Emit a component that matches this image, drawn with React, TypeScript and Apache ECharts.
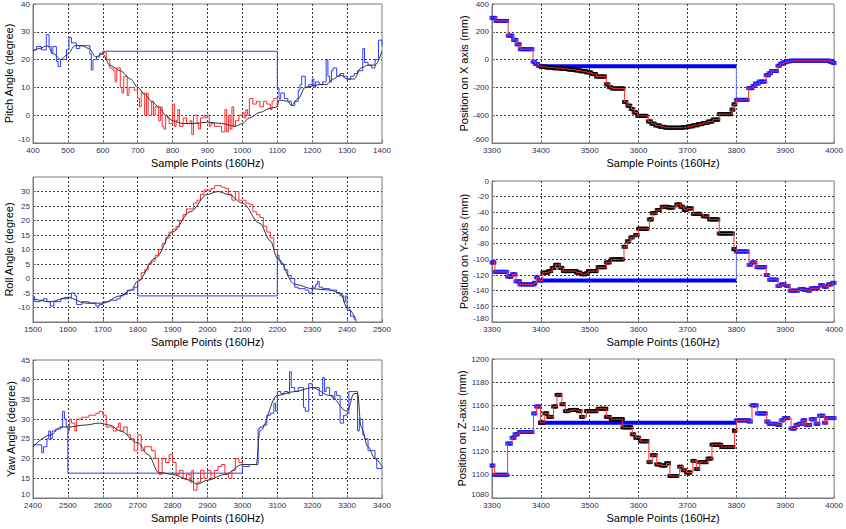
import React, { useEffect, useRef } from 'react';
import * as echarts from 'echarts';

// ---------- Left column: angle data [sample, degree] ----------
const pitchBlue = [[400,23.5],[410,24.7],[424,23.5],[438,29],[446,24.7],[452,22.3],[457,24.7],[467,19.3],[472,17.5],[479,20],[496,23.5],[503,28],[510,26],[524,24],[534,25],[563,22],[567,16.3],[572,20],[582,21],[591,22.3],[600,23],
  [1100,9.7],[1105,6],[1110,8],[1120,6],[1130,5],[1140,3.5],[1150,5],[1160,9],[1165,11],[1170,14],[1180,10],[1190,11],[1200,13],[1205,10],[1210,12],[1220,11],[1230,12],[1240,20],[1245,14],[1250,12],[1255,16],[1260,17],[1270,14],[1280,15],[1290,14],[1300,13],[1310,14],[1320,15],[1330,16],[1345,24],[1350,19],[1360,18],[1370,17],[1380,20],[1390,27],[1400,25]];
const pitchRed = [[600,22.5],[610,20],[620,17],[630,16],[635,12],[640,17],[650,10],[655,8],[660,14],[670,7],[675,10],[685,10],[690,9],[700,6],[705,3],[710,8],[720,0],[725,8],[730,0],[740,5],[745,0],[750,3],[760,-2],[765,3],[770,-4],[775,-5],[780,0],[785,-1],[790,-3],[800,4],[805,-4],[810,-2],[815,2],[820,-4],[830,-1],[840,-3],[850,-2],[855,-7],[860,0],[870,-3],[875,-5],[880,-1],[890,0],[895,-1],[900,0],[905,-4],[910,-3],[920,-4],[930,-4],[940,-6],[950,2],[955,-6],[960,0],[965,-5],[970,3],[975,-4],[980,-2],[990,0],[1000,1],[1005,-1],[1010,2],[1015,0],[1020,6],[1030,4],[1040,5],[1050,3],[1060,5],[1070,4],[1080,2],[1085,5],[1090,6],[1100,3]];
const pitchBlack = [[400,23],[420,24],[440,25],[460,22],[480,20],[500,22],[520,25],[540,25],[560,24],[580,21],[600,22],[620,18],[650,16],[680,13],[700,10],[720,7.5],[740,5],[760,3],[780,0],[800,-2],[830,-3],[860,-3],[900,-2.5],[940,-3],[980,-4],[1000,-3],[1020,-1],[1050,1],[1080,2.5],[1100,3],[1105,5.5],[1130,5],[1140,3.5],[1160,6],[1180,10],[1200,10.5],[1220,11],[1240,11],[1260,13],[1280,14.5],[1300,13],[1320,13],[1340,17],[1360,18],[1380,18],[1400,23]];

const rollBlue = [[1500,-6.3],[1505,-8],[1520,-7.5],[1530,-7],[1540,-8],[1550,-9.5],[1560,-8],[1580,-7],[1600,-6.5],[1610,-5],[1620,-6],[1625,-9],[1640,-8],[1660,-8.5],[1680,-9.5],[1690,-9],[1700,-8],[1720,-7.5],[1740,-7],[1750,-6],[1760,-5.5],[1770,-4],[1790,-3],[1800,-1],[1800,-6],
  [2200,8],[2205,6],[2210,5],[2220,3],[2230,1],[2240,0],[2250,-3],[2260,-3.5],[2280,-4],[2290,-5],[2300,-3],[2310,-2],[2315,-1],[2320,-3],[2330,-3.5],[2350,-4],[2370,-5],[2380,-6],[2390,-8],[2395,-6],[2400,-11],[2410,-13],[2420,-14],[2425,-15]];
const rollRed = [[1800,-0.5],[1810,2],[1820,3],[1830,5],[1840,6],[1850,8],[1860,10],[1870,12],[1880,14],[1890,16],[1900,17],[1910,18],[1920,20],[1930,22],[1940,24],[1950,24],[1960,26],[1970,27],[1980,29],[1990,30.5],[2000,30.5],[2010,31],[2020,32],[2030,32],[2040,31.5],[2050,31],[2060,29],[2070,27],[2080,30],[2090,27],[2100,27],[2110,26],[2120,25.5],[2130,23],[2140,22],[2150,21],[2160,18],[2170,16],[2180,14],[2190,10],[2200,7]];
const rollBlack = [[1500,-7],[1550,-8],[1600,-6.5],[1650,-8.5],[1700,-8.5],[1750,-6],[1780,-4],[1800,-1],[1850,7],[1900,16],[1950,23],[2000,29],[2030,30],[2060,29],[2100,26],[2150,19],[2180,13],[2200,7],[2250,-2],[2300,-3.5],[2350,-4],[2380,-5],[2400,-10],[2425,-14]];

const yawBlue = [[2400,23.5],[2420,23.5],[2425,21.5],[2430,23],[2440,25],[2445,27],[2450,25],[2455,27],[2465,27.5],[2480,28],[2485,32],[2490,30],[2495,28],[2500,16.3],
  [3000,18],[3020,18.5],[3045,27.5],[3050,28],[3060,28.5],[3070,31],[3080,31.5],[3090,34],[3095,32],[3100,37],[3110,36.5],[3120,37],[3130,36.5],[3135,42],[3140,38],[3150,37],[3160,38],[3175,33],[3180,32],[3190,39],[3200,38],[3220,36],[3230,40.5],[3235,37],[3240,38],[3250,36],[3260,35],[3265,37],[3270,36],[3280,29],[3290,31],[3300,31.5],[3305,37],[3320,37],[3330,27],[3335,30],[3345,26],[3350,25],[3360,22],[3380,20],[3385,17.5],[3400,18]];
const yawRed = [[2500,27],[2505,30],[2510,29],[2520,27],[2525,30],[2540,30.5],[2560,31],[2580,31.5],[2590,32],[2600,31],[2610,28],[2630,27],[2640,28],[2645,29],[2650,27],[2660,28],[2670,26],[2680,25],[2690,22],[2700,26],[2710,22],[2720,23],[2740,22],[2750,20],[2760,16],[2770,20],[2780,19],[2790,21],[2800,19],[2810,16],[2820,17],[2830,15],[2840,16],[2850,14],[2855,17],[2860,12],[2870,14],[2880,17],[2890,15],[2900,17],[2910,15],[2920,17],[2930,18],[2940,18.5],[2950,16],[2960,15],[2970,17],[2980,20],[2990,19],[3000,18]];
const yawBlack = [[2400,23],[2450,26],[2480,28],[2500,28],[2550,28.5],[2590,29],[2620,28.5],[2650,27],[2700,24],[2730,21],[2760,16.5],[2800,16],[2850,14.5],[2870,13.5],[2900,14.5],[2950,16],[3000,18.5],[3040,18.5],[3050,27],[3100,36],[3150,37],[3200,38],[3250,36],[3300,32],[3320,36.5],[3330,36.5],[3340,28],[3360,23],[3380,20],[3400,18]];

// ---------- Right column: position runs [startSample, endSample, mm] ----------
const posXBefore = [[3300,3306,300],[3308,3330,278],[3333,3341,172],[3344,3349,142],[3351,3356,110],[3358,3382,75],[3384,3387,-15],[3389,3393,-32],[3395,3400,-45]];
const posXWindow = [[3400,3410,-52],[3412,3425,-57],[3427,3440,-62],[3442,3455,-66],[3457,3470,-72],[3472,3480,-78],[3482,3492,-84],[3494,3502,-92],[3504,3512,-104],[3514,3530,-122],[3534,3537,-178],[3540,3543,-198],[3546,3568,-208],[3571,3574,-305],[3578,3582,-332],[3585,3588,-356],[3591,3595,-380],[3598,3615,-405],[3620,3624,-445],[3627,3632,-461],[3635,3642,-474],[3645,3652,-484],[3655,3690,-490],[3692,3700,-486],[3702,3710,-480],[3712,3720,-472],[3722,3730,-464],[3732,3740,-456],[3742,3750,-446],[3752,3762,-432],[3765,3788,-392],[3791,3793,-360],[3795,3797,-322]];
const posXAfter = [[3800,3822,-290],[3825,3832,-205],[3834,3837,-190],[3839,3845,-172],[3847,3858,-158],[3861,3865,-112],[3867,3870,-98],[3872,3882,-82],[3885,3888,-45],[3890,3894,-30],[3896,3900,-20],[3903,3908,-13],[3910,3990,-8],[3992,3996,-15],[3998,4000,-24]];
const posXHold = -48;

const posYBefore = [[3300,3304,-104],[3306,3330,-116],[3332,3339,-122],[3342,3347,-119],[3349,3356,-128],[3357,3386,-132],[3387,3388,-130],[3391,3393,-123],[3396,3400,-127]];
const posYWindow = [[3404,3414,-117],[3416,3420,-115],[3423,3427,-111],[3430,3436,-107],[3439,3443,-111],[3446,3472,-115],[3473,3480,-117],[3483,3490,-119],[3493,3494,-118],[3497,3513,-115],[3517,3530,-110],[3534,3540,-104],[3544,3567,-100],[3570,3573,-84],[3577,3580,-77],[3584,3587,-72],[3594,3597,-69],[3600,3617,-61],[3622,3626,-49],[3628,3634,-41],[3638,3642,-37],[3648,3660,-33],[3661,3670,-34],[3678,3684,-30],[3686,3690,-33],[3693,3697,-37],[3700,3708,-35],[3712,3725,-42],[3732,3740,-45],[3745,3762,-49],[3765,3792,-67],[3795,3796,-87]];
const posYAfter = [[3800,3822,-90],[3826,3829,-107],[3832,3838,-104],[3842,3858,-110],[3861,3864,-120],[3868,3882,-126],[3885,3888,-134],[3892,3898,-132],[3903,3906,-134],[3910,3925,-140],[3930,3937,-138],[3940,3946,-139],[3947,3950,-140],[3953,3966,-137],[3972,3976,-133],[3980,3984,-135],[3988,3994,-132],[3997,4000,-130]];
const posYHold = -127;

const posZBefore = [[3300,3302,1108],[3305,3330,1100],[3332,3338,1127],[3341,3345,1132],[3347,3352,1135],[3356,3382,1137],[3385,3388,1153],[3391,3396,1159],[3399,3400,1145]];
const posZWindow = [[3400,3404,1145],[3408,3412,1153],[3416,3422,1150],[3426,3430,1159],[3433,3439,1169],[3443,3446,1161],[3450,3456,1155],[3460,3473,1156],[3477,3480,1155],[3483,3486,1150],[3493,3513,1155],[3517,3533,1157],[3534,3540,1150],[3544,3567,1148],[3568,3584,1141],[3587,3590,1135],[3594,3600,1132],[3604,3617,1129],[3621,3624,1111],[3628,3634,1117],[3637,3643,1109],[3647,3654,1108],[3657,3661,1110],[3664,3678,1099],[3684,3687,1107],[3691,3694,1104],[3698,3705,1102],[3711,3714,1112],[3718,3721,1105],[3725,3738,1111],[3742,3748,1114],[3750,3768,1126],[3770,3793,1124],[3796,3797,1138]];
const posZAfter = [[3800,3825,1147],[3826,3829,1146],[3832,3841,1160],[3843,3859,1153],[3862,3865,1146],[3867,3882,1144],[3885,3889,1143],[3892,3895,1147],[3898,3905,1149],[3912,3919,1140],[3922,3925,1143],[3928,3933,1144],[3936,3940,1147],[3943,3950,1143],[3953,3960,1148],[3963,3967,1144],[3970,3977,1151],[3980,3983,1145],[3985,4000,1149]];
const posZHold = 1145;

// ---------- Axis settings ----------
const leftXRanges = [[400, 1400], [1500, 2500], [2400, 3400]];
const leftYRanges = [[-10, 40, 10], [-15, 35, 5], [10, 45, 5]];
const rightYRanges = [[-600, 400, 200], [-180, 0, 20], [1080, 1200, 20]];
const leftNames = ['Pitch Angle (degree)', 'Roll Angle (degree)', 'Yaw Angle (degree)'];
const rightNames = ['Position on X axis (mm)', 'Position on Y-axis (mm)', 'Position on Z-axis (mm)'];
const xName = 'Sample Points (160Hz)';

function expand(runs: number[][], step = 3) {
  const pts: number[][] = [];
  for (const [a, b, v] of runs) {
    for (let x = a; x <= b; x += step) pts.push([x, v]);
    if ((b - a) % step !== 0) pts.push([b, v]);
  }
  return pts;
}

const FONT = 'Liberation Sans';
const LABEL_COLOR = '#2e2e63';

function makeOption() {
  const grids = [
    { left: 33, width: 349, top: 4, height: 139 },
    { left: 33, width: 349, top: 177, height: 145 },
    { left: 33, width: 349, top: 360, height: 138 },
    { left: 492, width: 346, top: 4, height: 139 },
    { left: 492, width: 346, top: 181, height: 141 },
    { left: 492, width: 346, top: 359, height: 139 },
  ].map((g) => ({ ...g, show: true, borderColor: '#7a7a7a', borderWidth: 1, backgroundColor: 'transparent' }));

  const split = { show: true, showMinLine: false, showMaxLine: false, lineStyle: { type: [2, 2], color: '#3a3a3a', width: 1 } };
  const label = { fontSize: 8, color: LABEL_COLOR, fontFamily: FONT, formatter: (v: number) => String(v) };
  const xAxes: any[] = [];
  const yAxes: any[] = [];
  for (let i = 0; i < 6; i++) {
    const left = i < 3;
    const xr = left ? leftXRanges[i] : [3300, 4000];
    xAxes.push({
      type: 'value', gridIndex: i, min: xr[0], max: xr[1], interval: 100,
      axisLine: { show: true, onZero: false, lineStyle: { color: '#7a7a7a' } },
      axisTick: { show: true, inside: true, length: 3, lineStyle: { color: '#7a7a7a' } },
      axisLabel: { ...label, margin: 3 },
      splitLine: split,
      name: xName, nameLocation: 'middle', nameGap: 14,
      nameTextStyle: { fontSize: 11, color: '#000', fontFamily: FONT },
    });
    const yr = left ? leftYRanges[i] : rightYRanges[i - 3];
    const roll = i === 1;
    yAxes.push({
      type: 'value', gridIndex: i, min: yr[0], max: yr[1], interval: yr[2],
      axisLine: { show: true, onZero: false, lineStyle: { color: '#7a7a7a' } },
      axisTick: { show: true, inside: true, length: 3, lineStyle: { color: '#7a7a7a' } },
      axisLabel: { ...label, margin: 3, showMinLabel: !roll, showMaxLabel: !roll, verticalAlignMinLabel: 'bottom' },
      splitLine: split,
      name: left ? leftNames[i] : rightNames[i - 3], nameLocation: 'middle', nameGap: left ? 17 : 20,
      nameTextStyle: { fontSize: 11, color: '#000', fontFamily: FONT },
    });
  }

  const series: any[] = [];
  const leftSets = [[pitchBlue, pitchRed, pitchBlack], [rollBlue, rollRed, rollBlack], [yawBlue, yawRed, yawBlack]];
  leftSets.forEach(([blue, red, black], i) => {
    series.push({ type: 'line', xAxisIndex: i, yAxisIndex: i, data: blue, step: 'end', showSymbol: false, lineStyle: { color: '#2a3cff', width: 1 }, z: 2 });
    series.push({ type: 'line', xAxisIndex: i, yAxisIndex: i, data: red, step: 'end', showSymbol: false, lineStyle: { color: '#ff2a2a', width: 1 }, z: 3 });
    series.push({ type: 'line', xAxisIndex: i, yAxisIndex: i, data: black, smooth: 0.35, smoothMonotone: 'x', showSymbol: false, lineStyle: { color: '#333333', width: 1 }, z: 4 });
  });

  const rightSets: [number[][], number[][], number[][], number][] = [
    [posXBefore, posXWindow, posXAfter, posXHold],
    [posYBefore, posYWindow, posYAfter, posYHold],
    [posZBefore, posZWindow, posZAfter, posZHold],
  ];
  rightSets.forEach(([before, win, after, hold], k) => {
    const i = k + 3;
    const b = expand(before);
    const w = expand(win);
    const a = expand(after);
    series.push({ type: 'line', xAxisIndex: i, yAxisIndex: i, data: [[3400, hold], [3800, hold]], showSymbol: false, lineStyle: { color: '#0000ff', width: 4 }, z: 2 });
    series.push({ type: 'line', xAxisIndex: i, yAxisIndex: i, data: [[3800, hold], [3800, after[0][2]]], showSymbol: false, lineStyle: { color: '#6670ff', width: 1 }, z: 2 });
    series.push({ type: 'scatter', xAxisIndex: i, yAxisIndex: i, data: [...b, ...a], symbol: 'rect', symbolSize: [5, 4], itemStyle: { color: '#1414ff' }, z: 3 });
    series.push({ type: 'scatter', xAxisIndex: i, yAxisIndex: i, data: w, symbol: 'rect', symbolSize: [5, 4], itemStyle: { color: '#000000' }, z: 3 });
    series.push({ type: 'line', xAxisIndex: i, yAxisIndex: i, data: [...b, ...w, ...a], step: 'end', showSymbol: false, lineStyle: { color: '#ff3030', width: 1 }, z: 4 });
  });

  return {
    animation: false,
    backgroundColor: '#ffffff',
    grid: grids,
    xAxis: xAxes,
    yAxis: yAxes,
    series,
  };
}

export default function App() {
  const ref = useRef<HTMLDivElement>(null);
  useEffect(() => {
    const chart = echarts.init(ref.current!, null, { renderer: 'svg' });
    chart.setOption(makeOption());
    return () => chart.dispose();
  }, []);
  return <div ref={ref} style={{ position: 'absolute', left: 0, top: 0, width: 846, height: 529 }} />;
}
